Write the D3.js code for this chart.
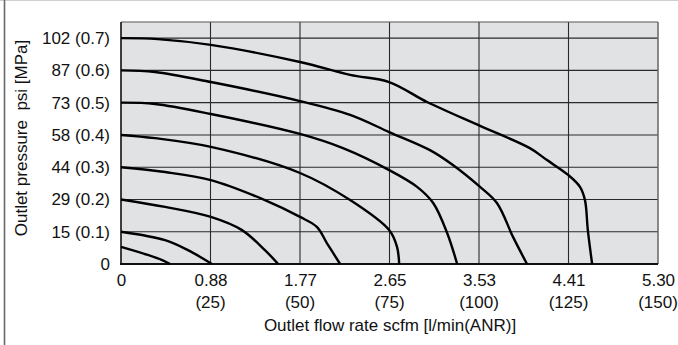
<!DOCTYPE html>
<html>
<head>
<meta charset="utf-8">
<script src="https://cdn.jsdelivr.net/npm/d3@7"></script>
<style>
  html, body { margin: 0; padding: 0; background: #fff; }
  svg { display: block; font-family: "Liberation Sans", Arial, Helvetica, sans-serif; }
</style>
</head>
<body>
<svg id="chart" width="678" height="345"></svg>
<script>
// flow in l/min(ANR), pressure in MPa
const yTicks = [0, 0.1, 0.2, 0.3, 0.4, 0.5, 0.6, 0.7];
const yTickLabels = ['0', '15 (0.1)', '29 (0.2)', '44 (0.3)', '58 (0.4)', '73 (0.5)', '87 (0.6)', '102 (0.7)'];
const xTicks = [0, 25, 50, 75, 100, 125, 150];
const xTickScfm = ['0', '0.88', '1.77', '2.65', '3.53', '4.41', '5.30'];
const xTickLpm = ['', '(25)', '(50)', '(75)', '(100)', '(125)', '(150)'];

const curve07 = [[0, 0.7], [10.3, 0.697], [25.1, 0.679], [50, 0.626], [64, 0.586], [74.9, 0.564], [85.5, 0.502],
  [100.3, 0.428], [114.2, 0.359], [119, 0.322], [124.9, 0.276], [128.2, 0.239], [129.6, 0.198], [130.4, 0.105], [131.6, 0]];
const curve06 = [[0, 0.6], [9.5, 0.595], [25.1, 0.564], [50, 0.505], [64, 0.462], [74.9, 0.409], [86.3, 0.353],
  [92.7, 0.307], [100.3, 0.239], [105, 0.189], [109.5, 0.084], [113.4, 0]];
const curve05 = [[0, 0.5], [9.5, 0.496], [25.1, 0.465], [50, 0.403], [62, 0.359], [74.9, 0.291], [82.7, 0.239],
  [87.2, 0.189], [91.1, 0.096], [93.9, 0]];
const curve04 = [[0, 0.4], [9.5, 0.39], [25.1, 0.363], [50, 0.282], [64, 0.198], [74.9, 0.105], [77.1, 0.053], [77.7, 0]];
const curve03 = [[0, 0.3], [12.3, 0.285], [25.1, 0.26], [40.2, 0.198], [50, 0.146], [54.7, 0.115], [57.5, 0.065], [61.2, 0]];
const curve02 = [[0, 0.2], [12.3, 0.177], [25.1, 0.146], [33.8, 0.105], [40.2, 0.043], [43.9, 0]];
const curve01 = [[0, 0.1], [12.3, 0.074], [18.7, 0.043], [25.4, 0]];
const curve00 = [[0, 0.053], [7.5, 0.028], [11.5, 0.012], [13.7, 0]];
const curves = [curve07, curve06, curve05, curve04, curve03, curve02, curve01, curve00];

const FONT = 17;
const svg = d3.select('#chart');

// outer frame bits (left and top edges of the figure box)
svg.append('line').attr('x1', 0).attr('x2', 678).attr('y1', 0.5).attr('y2', 0.5)
  .attr('stroke', '#cfcfcf').attr('stroke-width', 1);
svg.append('line').attr('x1', 4.5).attr('x2', 4.5).attr('y1', 0).attr('y2', 345)
  .attr('stroke', '#6a6a6a').attr('stroke-width', 1.6);

const x = d3.scaleLinear().domain([0, 150]).range([121, 658]);
const y = d3.scaleLinear().domain([0, 0.75]).range([264, 22]);

// plot background
svg.append('rect')
  .attr('x', x(0)).attr('y', y(0.75))
  .attr('width', x(150) - x(0)).attr('height', y(0) - y(0.75))
  .attr('fill', '#e1e2e4');

// grid
const grid = svg.append('g');
grid.selectAll('line.v')
  .data(xTicks.slice(1, -1))
  .enter().append('line')
  .attr('x1', d => x(d)).attr('x2', d => x(d))
  .attr('y1', y(0.75)).attr('y2', y(0))
  .attr('stroke', '#2a2a2a').attr('stroke-width', 1.1);
grid.selectAll('line.h')
  .data(yTicks.slice(1))
  .enter().append('line')
  .attr('x1', x(0)).attr('x2', x(150))
  .attr('y1', d => y(d)).attr('y2', d => y(d))
  .attr('stroke', '#2a2a2a').attr('stroke-width', 1.1);

// plot border
svg.append('line').attr('x1', x(0)).attr('x2', x(150)).attr('y1', y(0.75)).attr('y2', y(0.75))
  .attr('stroke', '#555').attr('stroke-width', 1);
svg.append('line').attr('x1', x(150)).attr('x2', x(150)).attr('y1', y(0.75)).attr('y2', y(0))
  .attr('stroke', '#666').attr('stroke-width', 1.5);
svg.append('line').attr('x1', x(0)).attr('x2', x(0)).attr('y1', y(0.75)).attr('y2', y(0))
  .attr('stroke', '#111').attr('stroke-width', 1.6);
svg.append('line').attr('x1', x(0) - 1).attr('x2', x(150)).attr('y1', y(0)).attr('y2', y(0))
  .attr('stroke', '#111').attr('stroke-width', 2);

// curves
const line = d3.line()
  .x(d => x(d[0]))
  .y(d => y(d[1]))
  .curve(d3.curveCatmullRom.alpha(0.5));

svg.append('g')
  .selectAll('path')
  .data(curves)
  .enter().append('path')
  .attr('d', line)
  .attr('fill', 'none')
  .attr('stroke', '#000')
  .attr('stroke-width', 2.4)
  .attr('stroke-linejoin', 'round');

// y axis labels
const yAxis = d3.axisLeft(y)
  .tickValues(yTicks)
  .tickSize(0)
  .tickPadding(11)
  .tickFormat((d, i) => yTickLabels[i]);
const yg = svg.append('g')
  .attr('transform', `translate(${x(0)},0)`)
  .call(yAxis);
yg.select('.domain').remove();
yg.selectAll('text')
  .attr('font-size', FONT)
  .attr('font-family', null)
  .attr('fill', '#111');

// x axis labels (two rows)
const xAxis = d3.axisBottom(x)
  .tickValues(xTicks)
  .tickSize(0)
  .tickPadding(10)
  .tickFormat((d, i) => xTickScfm[i]);
const xg = svg.append('g')
  .attr('transform', `translate(0,${y(0)})`)
  .call(xAxis);
xg.select('.domain').remove();
xg.selectAll('text')
  .attr('font-size', FONT)
  .attr('font-family', null)
  .attr('fill', '#111');

svg.append('g')
  .selectAll('text')
  .data(xTicks)
  .enter().append('text')
  .attr('x', d => x(d))
  .attr('y', 308)
  .attr('text-anchor', 'middle')
  .attr('font-size', FONT)
  .attr('fill', '#111')
  .text((d, i) => xTickLpm[i]);

// axis titles
svg.append('text')
  .attr('x', 390)
  .attr('y', 331)
  .attr('text-anchor', 'middle')
  .attr('font-size', FONT)
  .attr('fill', '#111')
  .text('Outlet flow rate scfm [l/min(ANR)]');

svg.append('text')
  .attr('transform', 'translate(27,138) rotate(-90)')
  .attr('text-anchor', 'middle')
  .attr('font-size', FONT)
  .attr('fill', '#111')
  .style('white-space', 'pre')
  .text('Outlet pressure  psi [MPa]');
</script>
</body>
</html>
